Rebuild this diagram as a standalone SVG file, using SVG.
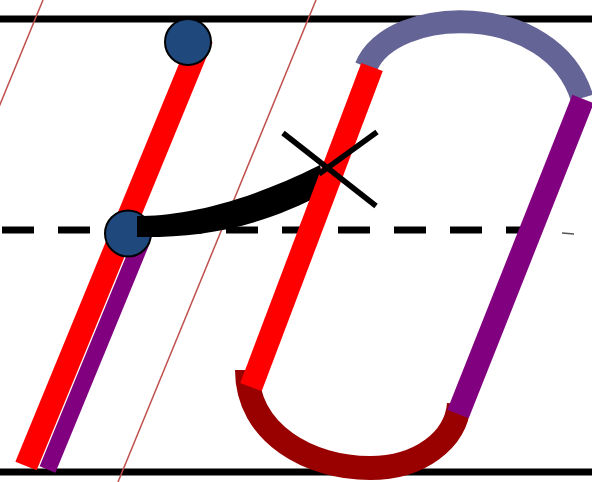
<svg xmlns="http://www.w3.org/2000/svg" width="592" height="482" viewBox="0 0 592 482">
  <style>
    .rule { stroke: #000; stroke-width: 7; fill: none; }
    .dash { stroke: #000; stroke-width: 7; stroke-dasharray: 32 24; fill: none; }
    .guide { stroke: #c0504d; stroke-width: 1.5; fill: none; }
    .red { stroke: #ff0000; stroke-width: 23; fill: none; }
    .purple { stroke: #800080; fill: none; }
    .slate { stroke: #646496; stroke-width: 23; fill: none; }
    .dark { stroke: #990000; stroke-width: 24; fill: none; }
    .dot { fill: #1f497d; stroke: #000; stroke-width: 2; }
    .cross { stroke: #000; stroke-width: 5.5; fill: none; }
  </style>
  <rect width="592" height="482" fill="#fff"/>
  <g id="ruling">
    <line class="rule" x1="0" y1="19" x2="592" y2="19"/>
    <line class="rule" x1="0" y1="472" x2="592" y2="472"/>
    <line class="dash" x1="2" y1="230" x2="538" y2="230"/>
    <line x1="562" y1="233" x2="574" y2="234" stroke="#555" stroke-width="1.5"/>
    <line class="guide" x1="43" y1="0" x2="-1" y2="107"/>
    <line class="guide" x1="316" y1="0" x2="118" y2="482"/>
  </g>
  <g id="stroke-left">
    <line class="red" x1="26" y1="466" x2="202" y2="38"/>
    <line class="purple" stroke-width="17" x1="47.5" y1="469.5" x2="142" y2="240"/>
  </g>
  <g id="start-dot">
    <circle class="dot" cx="188" cy="42" r="23"/>
  </g>
  <g id="join-dot">
    <circle class="dot" cx="128" cy="233.5" r="23"/>
  </g>
  <g id="connectors">
    <path d="M137,216 C180,216 240,205 320,165 L326,192 C260,228 200,238 137,237 Z" fill="#000"/>
  </g>
  <g id="loop">
    <path class="slate" d="M366,67 C392,4 552,0 582,98"/>
    <path class="dark" d="M247,370 C247,434 310,468 370,468 C420,468 456,440 459,404"/>
    <line class="red" x1="251" y1="387" x2="372" y2="67"/>
    <line class="purple" stroke-width="23" x1="458" y1="414" x2="583" y2="99"/>
  </g>
  <g id="cross-mark">
    <line class="cross" x1="283" y1="133" x2="376" y2="206"/>
    <line class="cross" x1="377" y1="132" x2="319" y2="174"/>
  </g>
</svg>
